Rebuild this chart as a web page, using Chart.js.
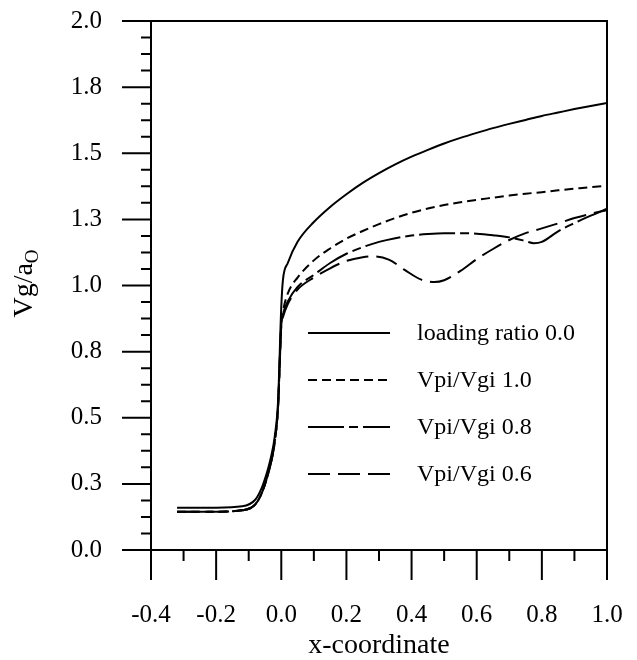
<!DOCTYPE html>
<html>
<head>
<meta charset="utf-8">
<script src="https://cdn.jsdelivr.net/npm/chart.js@4.4.0/dist/chart.umd.min.js"></script>
<style>
  html, body { margin: 0; padding: 0; background: #fff; }
  #wrap { width: 637px; height: 660px; }
</style>
</head>
<body>
<div id="wrap"><canvas id="chart" width="637" height="660"></canvas></div>
<script>
// legend labels
const seriesNames = ['loading ratio 0.0', 'Vpi/Vgi 1.0', 'Vpi/Vgi 0.8', 'Vpi/Vgi 0.6'];

// loading ratio 0.0 (solid)
const xSolid = [-0.32, -0.2, -0.12, -0.08, -0.06, -0.04, -0.03, -0.02, -0.01, 0, 0.005, 0.02, 0.05, 0.1, 0.15, 0.2, 0.25, 0.3, 0.35, 0.4, 0.45, 0.5, 0.55, 0.6, 0.65, 0.7, 0.75, 0.8, 0.85, 0.9, 0.95, 1.0];
const ySolid = [0.16, 0.16, 0.165, 0.19, 0.235, 0.31, 0.36, 0.43, 0.56, 0.92, 1.02, 1.085, 1.165, 1.24, 1.297, 1.345, 1.388, 1.425, 1.458, 1.487, 1.513, 1.537, 1.558, 1.577, 1.595, 1.611, 1.626, 1.641, 1.654, 1.667, 1.679, 1.69];

// Vpi/Vgi 1.0 (short dash)
const xRatio10 = [-0.32, -0.2, -0.12, -0.08, -0.06, -0.04, -0.03, -0.02, -0.01, 0, 0.005, 0.02, 0.05, 0.1, 0.15, 0.2, 0.25, 0.3, 0.35, 0.4, 0.45, 0.5, 0.55, 0.6, 0.65, 0.7, 0.75, 0.8, 0.85, 0.9, 0.95, 1.0];
const yRatio10 = [0.145, 0.145, 0.15, 0.172, 0.215, 0.29, 0.34, 0.41, 0.54, 0.85, 0.9, 0.97, 1.03, 1.095, 1.14, 1.177, 1.206, 1.232, 1.255, 1.275, 1.291, 1.304, 1.315, 1.324, 1.332, 1.34, 1.347, 1.353, 1.36, 1.366, 1.372, 1.377];

// Vpi/Vgi 0.8 (dash-dot)
const xRatio08 = [-0.32, -0.2, -0.12, -0.08, -0.06, -0.04, -0.03, -0.02, -0.01, 0, 0.005, 0.02, 0.05, 0.1, 0.15, 0.2, 0.25, 0.3, 0.35, 0.4, 0.45, 0.5, 0.55, 0.6, 0.65, 0.7, 0.75, 0.775, 0.8, 0.85, 0.9, 0.95, 1.0];
const yRatio08 = [0.145, 0.145, 0.15, 0.172, 0.215, 0.29, 0.34, 0.41, 0.54, 0.85, 0.89, 0.94, 0.995, 1.04, 1.085, 1.12, 1.145, 1.165, 1.179, 1.189, 1.195, 1.198, 1.198, 1.196, 1.19, 1.182, 1.168, 1.16, 1.165, 1.205, 1.236, 1.264, 1.29];

// Vpi/Vgi 0.6 (long dash)
const xRatio06 = [-0.32, -0.2, -0.12, -0.08, -0.06, -0.04, -0.03, -0.02, -0.01, 0, 0.005, 0.02, 0.05, 0.1, 0.15, 0.2, 0.25, 0.28, 0.33, 0.38, 0.43, 0.47, 0.5, 0.55, 0.6, 0.65, 0.7, 0.75, 0.8, 0.85, 0.9, 0.95, 1.0];
const yRatio06 = [0.145, 0.145, 0.15, 0.172, 0.215, 0.29, 0.34, 0.41, 0.54, 0.85, 0.88, 0.93, 0.985, 1.03, 1.065, 1.093, 1.107, 1.11, 1.098, 1.058, 1.022, 1.013, 1.02, 1.055, 1.1, 1.138, 1.172, 1.198, 1.216, 1.235, 1.255, 1.271, 1.285];

const seriesX = [xSolid, xRatio10, xRatio08, xRatio06];
const seriesY = [ySolid, yRatio10, yRatio08, yRatio06];
const dashes = [[], [9, 5], [36, 5, 9, 5], [22, 8]];

const serif = "'Liberation Serif', 'Times New Roman', serif";

function toPoints(xs, ys) {
    return xs.map((x, i) => ({ x: x, y: ys[i] }));
}

function fmt(v) {
    if (Math.abs(v) < 1e-9) v = 0;
    return Number(v).toFixed(1);
}

// ticks, top/right frame, y title and the in-plot legend
const decorations = {
    id: 'decorations',
    afterDraw(chart) {
        const { ctx, chartArea: a, scales: { x, y } } = chart;
        ctx.save();
        ctx.strokeStyle = '#000';
        ctx.lineWidth = 2;
        ctx.setLineDash([]);
        ctx.beginPath();
        ctx.moveTo(a.left, a.top);
        ctx.lineTo(a.right, a.top);
        ctx.lineTo(a.right, a.bottom);

        // y ticks: long majors, three minors in between
        const yt = y.ticks.map(t => t.value);
        yt.forEach((v, i) => {
            const py = y.getPixelForValue(v);
            ctx.moveTo(a.left - 29, py);
            ctx.lineTo(a.left, py);
            if (i < yt.length - 1) {
                for (let k = 1; k < 4; k++) {
                    const m = y.getPixelForValue(v + (yt[i + 1] - v) * k / 4);
                    ctx.moveTo(a.left - 10, m);
                    ctx.lineTo(a.left, m);
                }
            }
        });

        // x ticks: majors plus one minor between
        const xt = x.ticks.map(t => t.value);
        xt.forEach((v, i) => {
            const px = x.getPixelForValue(v);
            ctx.moveTo(px, a.bottom);
            ctx.lineTo(px, a.bottom + 30);
            if (i < xt.length - 1) {
                const m = x.getPixelForValue((v + xt[i + 1]) / 2);
                ctx.moveTo(m, a.bottom);
                ctx.lineTo(m, a.bottom + 11);
            }
        });
        ctx.stroke();

        // y axis title with subscript
        ctx.fillStyle = '#000';
        ctx.translate(32, (a.top + a.bottom) / 2 - 2);
        ctx.rotate(-Math.PI / 2);
        ctx.textBaseline = 'alphabetic';
        ctx.font = '28px ' + serif;
        const main = 'Vg/a';
        const w1 = ctx.measureText(main).width;
        ctx.font = '19px ' + serif;
        const w2 = ctx.measureText('O').width;
        const start = -(w1 + w2) / 2;
        ctx.font = '28px ' + serif;
        ctx.fillText(main, start, 0);
        ctx.font = '19px ' + serif;
        ctx.fillText('O', start + w1, 6);
        ctx.restore();

        // legend
        ctx.save();
        ctx.strokeStyle = '#000';
        ctx.fillStyle = '#000';
        ctx.lineWidth = 2;
        ctx.font = '24px ' + serif;
        ctx.textBaseline = 'middle';
        chart.data.datasets.forEach((ds, i) => {
            const ry = 333 + i * 47;
            ctx.setLineDash(ds.borderDash || []);
            ctx.beginPath();
            ctx.moveTo(308, ry);
            ctx.lineTo(390, ry);
            ctx.stroke();
            ctx.setLineDash([]);
            ctx.fillText(ds.label, 417, ry + 1);
        });
        ctx.restore();
    }
};

const datasets = seriesNames.map((name, i) => ({
    label: name,
    data: toPoints(seriesX[i], seriesY[i]),
    borderColor: '#000',
    borderWidth: 2,
    borderDash: dashes[i],
    pointRadius: 0,
    fill: false,
    cubicInterpolationMode: 'monotone'
}));

new Chart(document.getElementById('chart'), {
    type: 'line',
    data: { datasets: datasets },
    plugins: [decorations],
    options: {
        responsive: false,
        animation: false,
        devicePixelRatio: 1,
        layout: { padding: { top: 21, right: 30, left: 0, bottom: 0 } },
        plugins: {
            legend: { display: false },
            tooltip: { enabled: false }
        },
        scales: {
            x: {
                type: 'linear',
                min: -0.4,
                max: 1.0,
                afterFit: s => {
                    s.height = 110;
                    s.paddingLeft = 0;
                    s.paddingRight = 0;
                },
                grid: { display: false, drawTicks: false },
                border: { display: true, color: '#000', width: 2 },
                ticks: {
                    stepSize: 0.2,
                    color: '#000',
                    padding: 50,
                    maxRotation: 0,
                    font: { family: serif, size: 25 },
                    callback: v => fmt(v)
                },
                title: {
                    display: true,
                    text: 'x-coordinate',
                    color: '#000',
                    font: { family: serif, size: 28, lineHeight: 1 },
                    padding: { top: 0, bottom: 0 }
                }
            },
            y: {
                type: 'linear',
                min: 0,
                max: 2.0,
                afterFit: s => {
                    s.width = 151;
                    s.paddingTop = 0;
                    s.paddingBottom = 0;
                },
                grid: { display: false, drawTicks: false },
                border: { display: true, color: '#000', width: 2 },
                ticks: {
                    stepSize: 0.25,
                    color: '#000',
                    padding: 49,
                    font: { family: serif, size: 25 },
                    callback: v => fmt(v)
                }
            }
        }
    }
});
</script>
</body>
</html>
